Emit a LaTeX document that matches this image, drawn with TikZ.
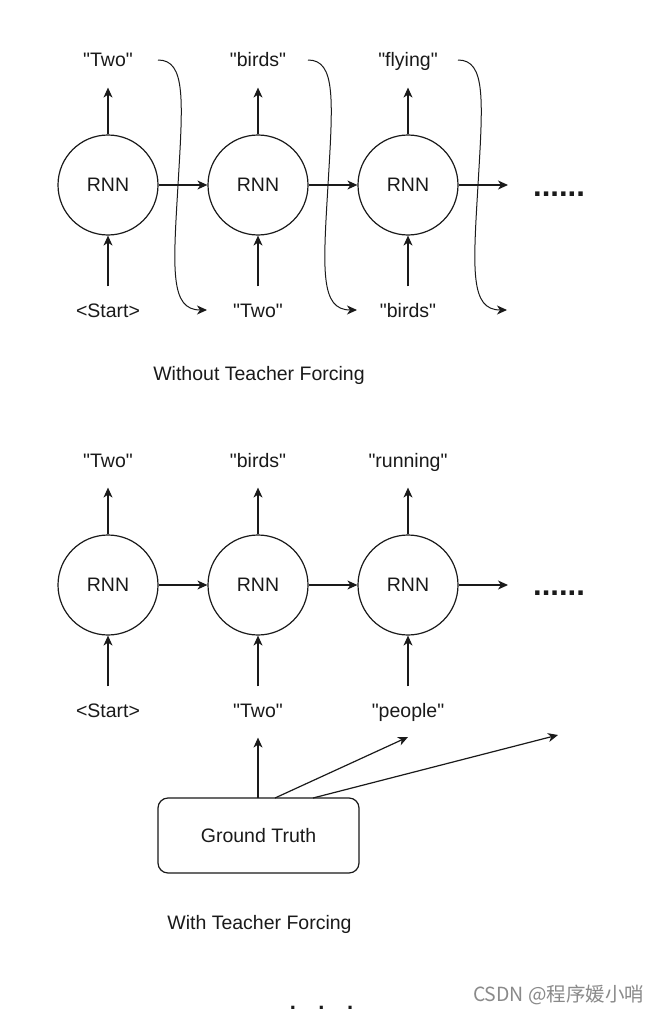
\documentclass[tikz,border=0pt]{standalone}
\usepackage{fontspec}
\setmainfont{Liberation Sans}[Ligatures=TeXOff]
\newfontfamily\cjkfont{Noto Sans CJK SC}
\usetikzlibrary{arrows.meta,calc}
\definecolor{ink}{HTML}{1A1A1A}
\definecolor{wm}{HTML}{8A8A8A}
\begin{document}
\begin{tikzpicture}[x=1pt,y=-1pt,
  font=\fontsize{19.5}{22}\selectfont,
  line width=1.2pt, draw=ink, text=ink,
  rnn/.style={circle,draw,minimum size=100pt,inner sep=0pt},
  arr/.style={-{Stealth[length=10pt,width=9pt,inset=3pt]}},
  lbl/.style={anchor=base,inner xsep=0pt,inner ysep=16pt,text height=14pt,text depth=4pt},
  title/.style={anchor=base},
  more/.style={anchor=base,font=\fontsize{31}{31}\selectfont\bfseries},
  gtbox/.style={draw,rounded corners=10pt,minimum width=201pt,minimum height=75pt}
]
\useasboundingbox (0,0) rectangle (660,1014);
\fill[white] (0,0) rectangle (660,1014);

% ---------- Without Teacher Forcing ----------
\node[rnn] (a1) at (108,185) {RNN};
\node[rnn] (a2) at (258,185) {RNN};
\node[rnn] (a3) at (408,185) {RNN};
\node[lbl] (ao1) at (108,67) {"Two"};
\node[lbl] (ao2) at (258,67) {"birds"};
\node[lbl] (ao3) at (408,67) {"flying"};
\node[lbl] (ai1) at (108,317) {<Start>};
\node[lbl] (ai2) at (258,317) {"Two"};
\node[lbl] (ai3) at (408,317) {"birds"};
\coordinate (aend) at (508,185);
\node[more] (adots) at (559,196) {......};

\draw[arr] (a1.north) -- (ao1.south);
\draw[arr] (a2.north) -- (ao2.south);
\draw[arr] (a3.north) -- (ao3.south);
\draw[arr] (ai1.north) -- (a1.south);
\draw[arr] (ai2.north) -- (a2.south);
\draw[arr] (ai3.north) -- (a3.south);
\draw[arr] (a1.east) -- (a2.west);
\draw[arr] (a2.east) -- (a3.west);
\draw[arr] (a3.east) -- (aend);

\foreach \i/\dx in {1/0,2/150,3/300}{
  \coordinate (cs\i) at (158+\dx,60);
  \coordinate (cm\i) at (178+\dx,185);
  \coordinate (ce\i) at (207+\dx,310);
  \draw[arr,line width=1pt] (cs\i) .. controls +(28,0) and +(5,-85) .. (cm\i)
     .. controls +(-5,85) and +(-37,0) .. (ce\i);
}

\node[title] (ta) at (259,380) {Without Teacher Forcing};

% ---------- With Teacher Forcing ----------
\node[rnn] (b1) at (108,585) {RNN};
\node[rnn] (b2) at (258,585) {RNN};
\node[rnn] (b3) at (408,585) {RNN};
\node[lbl] (bo1) at (108,467) {"Two"};
\node[lbl] (bo2) at (258,467) {"birds"};
\node[lbl] (bo3) at (408,467) {"running"};
\node[lbl] (bi1) at (108,717) {<Start>};
\node[lbl] (bi2) at (258,717) {"Two"};
\node[lbl] (bi3) at (408,717) {"people"};
\coordinate (bend) at (508,585);
\node[more] (bdots) at (559,595) {......};

\draw[arr] (b1.north) -- (bo1.south);
\draw[arr] (b2.north) -- (bo2.south);
\draw[arr] (b3.north) -- (bo3.south);
\draw[arr] (bi1.north) -- (b1.south);
\draw[arr] (bi2.north) -- (b2.south);
\draw[arr] (bi3.north) -- (b3.south);
\draw[arr] (b1.east) -- (b2.west);
\draw[arr] (b2.east) -- (b3.west);
\draw[arr] (b3.east) -- (bend);

\node[gtbox] (gt) at (258.5,835.5) {Ground Truth};
\coordinate (g1) at (258,798);
\coordinate (g2) at (275,798);
\coordinate (g3) at (313,798);
\coordinate (p3) at (408,737);
\coordinate (p4) at (558,735);
\draw[arr] (g1) -- (bi2.south);
\draw[arr] (g2) -- (p3);
\draw[arr] (g3) -- (p4);

\node[title] (tb) at (259.5,929) {With Teacher Forcing};

\node[anchor=base,font=\fontsize{22}{22}\selectfont\bfseries] (ell) at (321.5,1009.5) {.\hspace{22.5pt}.\hspace{22.5pt}.};
\node[anchor=base east,inner sep=0pt,text=wm,font=\cjkfont\fontsize{19.5}{20}\selectfont] (wmk) at (645,1001) {CSDN @程序媛小哨};
\end{tikzpicture}
\end{document}
